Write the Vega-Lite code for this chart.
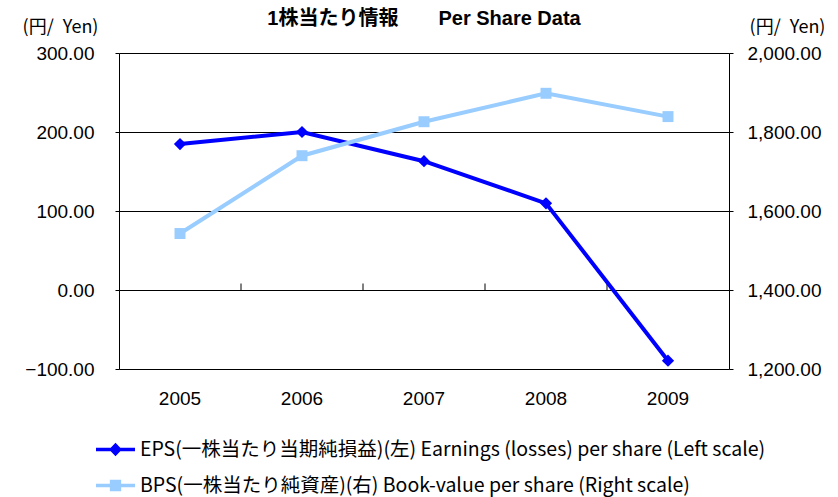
{
  "$schema": "https://vega.github.io/schema/vega-lite/v6.json",
  "autosize": "none",
  "width": 610,
  "height": 316,
  "padding": {"left": 119, "top": 53, "right": 109, "bottom": 128},
  "background": "white",
  "title": {"text": "1株当たり情報　　Per Share Data", "font": "Liberation Sans, Noto Sans CJK JP", "fontSize": 20, "fontWeight": "bold", "color": "#000", "anchor": "middle", "offset": -11},
  "config": {"view": {"stroke": null}, "font": "Liberation Sans, Noto Sans CJK JP"},
  "datasets": {
    "main": [
      {"year": "2005", "EPS": 184.8, "BPS": 1543},
      {"year": "2006", "EPS": 200.0, "BPS": 1740},
      {"year": "2007", "EPS": 163.0, "BPS": 1826},
      {"year": "2008", "EPS": 109.7, "BPS": 1898},
      {"year": "2009", "EPS": -89.5, "BPS": 1839}
    ],
    "ticks": [
      {"year": "2006", "v": 0, "v2": 8.2},
      {"year": "2007", "v": 0, "v2": 8.2},
      {"year": "2008", "v": 0, "v2": 8.2},
      {"year": "2009", "v": 0, "v2": 8.2}
    ]
  },
  "encoding": {
    "x": {"field": "year", "type": "ordinal", "scale": {"type": "band", "paddingInner": 0, "paddingOuter": 0, "domain": ["2005", "2006", "2007", "2008", "2009"]},
      "axis": {"title": null, "ticks": false, "domain": false, "labelAngle": 0, "labelFontSize": 19, "labelFont": "Liberation Sans", "labelColor": "#000", "labelPadding": 20, "grid": false}}
  },
  "layer": [
    {
      "layer": [
        {
          "data": {"name": "ticks"},
          "mark": {"type": "rule", "color": "#000", "strokeWidth": 1},
          "encoding": {
            "x": {"field": "year", "type": "ordinal", "bandPosition": 0},
            "y": {"field": "v", "type": "quantitative"},
            "y2": {"field": "v2"}
          }
        },
        {
          "data": {"name": "main"},
          "transform": [{"calculate": "'EPS(一株当たり当期純損益)(左) Earnings (losses) per share (Left scale)'", "as": "series"}],
          "mark": {"type": "line", "strokeWidth": 4},
          "encoding": {
            "y": {"field": "EPS", "type": "quantitative"},
            "color": {"field": "series", "type": "nominal",
              "scale": {"domain": ["EPS(一株当たり当期純損益)(左) Earnings (losses) per share (Left scale)", "BPS(一株当たり純資産)(右) Book-value per share (Right scale)"], "range": ["#0000FF", "#99CCFF"]},
              "legend": {"orient": "none", "legendX": -23, "legendY": 377, "direction": "vertical", "title": null,
                "symbolSize": 1521, "labelFontSize": 19.5, "labelFont": "Noto Sans CJK JP", "labelColor": "#000", "labelOffset": 5, "rowPadding": 7, "labelLimit": 800,
                "encode": {"symbols": {"update": {
                  "shape": {"signal": "datum.value[0] === 'E' ? 'M-1,-0.09L1,-0.09L1,0.09L-1,0.09Z M0,-0.34L0.33,0L0,0.34L-0.33,0Z' : 'M-1,-0.09L1,-0.09L1,0.09L-1,0.09Z M-0.29,-0.29L0.29,-0.29L0.29,0.29L-0.29,0.29Z'"},
                  "fill": {"signal": "datum.value[0] === 'E' ? '#0000FF' : '#99CCFF'"},
                  "strokeWidth": {"value": 0},
                  "opacity": {"value": 1}
                }}}}
            }
          }
        },
        {
          "data": {"name": "main"},
          "mark": {"type": "point", "shape": "diamond", "filled": true, "size": 150, "color": "#0000FF", "opacity": 1},
          "encoding": {"y": {"field": "EPS", "type": "quantitative"}}
        }
      ],
      "encoding": {
        "y": {"type": "quantitative", "scale": {"domain": [-100, 300], "nice": false, "zero": false},
          "axis": {"orient": "left", "values": [-100, 0, 100, 200, 300], "format": ".2f", "grid": true, "gridColor": "#000", "gridWidth": 1, "gridOpacity": 1,
            "domain": true, "domainColor": "#000", "tickColor": "#000", "tickSize": 4, "labelPadding": 21, "labelFontSize": 19, "labelFont": "Liberation Sans", "labelColor": "#000",
            "title": "(円/\u2002Yen)", "titleAngle": 0, "titleX": -59, "titleY": -26, "titleAlign": "center", "titleBaseline": "middle", "titleFontSize": 18, "titleFontWeight": "normal", "titleFont": "Noto Sans CJK JP", "titleColor": "#000"}}
      }
    },
    {
      "data": {"name": "main"},
      "transform": [{"calculate": "'BPS(一株当たり純資産)(右) Book-value per share (Right scale)'", "as": "series"}],
      "layer": [
        {
          "mark": {"type": "line", "strokeWidth": 4},
          "encoding": {"color": {"field": "series", "type": "nominal"}}
        },
        {
          "mark": {"type": "point", "shape": "square", "filled": true, "size": 120, "color": "#99CCFF", "opacity": 1},
          "encoding": {}
        }
      ],
      "encoding": {
        "y": {"field": "BPS", "type": "quantitative", "scale": {"domain": [1200, 2000], "nice": false, "zero": false},
          "axis": {"orient": "right", "values": [1200, 1400, 1600, 1800, 2000], "format": ",.2f", "grid": false,
            "domain": true, "domainColor": "#000", "tickColor": "#000", "tickSize": 4, "labelPadding": 14, "labelFontSize": 19, "labelFont": "Liberation Sans", "labelColor": "#000",
            "title": "(円/\u2002Yen)", "titleAngle": 0, "titleX": 58, "titleY": -26, "titleAlign": "center", "titleBaseline": "middle", "titleFontSize": 18, "titleFontWeight": "normal", "titleFont": "Noto Sans CJK JP", "titleColor": "#000"}}
      }
    }
  ],
  "resolve": {"scale": {"y": "independent"}}
}
